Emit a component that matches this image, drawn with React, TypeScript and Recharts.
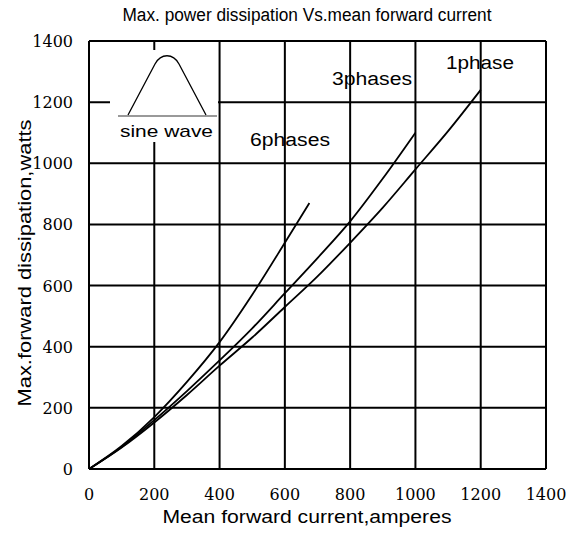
import { LineChart, Line, XAxis, YAxis, CartesianGrid } from "recharts";

// mean forward current (A) -> max forward dissipation (W)
const currents1Phase = [0, 100, 200, 300, 400, 500, 600, 700, 800, 900, 1000, 1100, 1200];
const watts1Phase = [0, 70, 152, 242, 338, 430, 530, 630, 740, 855, 980, 1105, 1240];

const currents3Phases = [0, 100, 200, 300, 400, 500, 600, 700, 800, 900, 1000];
const watts3Phases = [0, 72, 160, 255, 355, 460, 575, 690, 810, 950, 1100];

const currents6Phases = [0, 100, 200, 300, 400, 500, 600, 675];
const watts6Phases = [0, 75, 170, 285, 415, 570, 740, 870];

const xTicks = [0, 200, 400, 600, 800, 1000, 1200, 1400];
const yTicks = [0, 200, 400, 600, 800, 1000, 1200, 1400];

const toPoints = (xs: number[], ys: number[]) => xs.map((x, i) => ({ x, y: ys[i] }));

const sans = "Liberation Sans";
const serif = "DejaVu Serif";

// serif tick labels, like the scanned datasheet
function XTick(props: any) {
  const { x, y, payload } = props;
  return (
    <text x={x} y={y + 29} textAnchor="middle" fontFamily={serif} fontSize={16} fill="#000">
      {payload.value}
    </text>
  );
}

function YTick(props: any) {
  const { x, y, payload } = props;
  return (
    <text x={x} y={y + 6} textAnchor="end" fontFamily={serif} fontSize={16} fill="#000">
      {payload.value}
    </text>
  );
}

/**
 * Max. power dissipation vs. mean forward current for 1/3/6 phase operation.
 * Overlay holds the title, axis titles, curve labels and the sine-wave inset.
 */
export default function App() {
  return (
    <div style={{ position: "absolute", left: 0, top: 0, width: 570, height: 533, background: "#fff" }}>
      <LineChart
        width={570}
        height={533}
        margin={{ top: 41, right: 24, bottom: 34, left: 29 }}
      >
        <CartesianGrid stroke="#000" strokeWidth={2} />
        <XAxis
          type="number"
          dataKey="x"
          domain={[0, 1400]}
          ticks={xTicks}
          allowDataOverflow
          height={30}
          tickLine={false}
          tickSize={0}
          axisLine={{ stroke: "#000", strokeWidth: 2 }}
          tick={XTick}
        />
        <YAxis
          type="number"
          dataKey="y"
          domain={[0, 1400]}
          ticks={yTicks}
          allowDataOverflow
          width={60}
          tickLine={false}
          tickSize={0}
          tickMargin={16}
          axisLine={{ stroke: "#000", strokeWidth: 2 }}
          tick={YTick}
        />
        <Line
          data={toPoints(currents1Phase, watts1Phase)}
          dataKey="y"
          type="monotone"
          stroke="#000"
          strokeWidth={1.8}
          dot={false}
          isAnimationActive={false}
        />
        <Line
          data={toPoints(currents3Phases, watts3Phases)}
          dataKey="y"
          type="monotone"
          stroke="#000"
          strokeWidth={1.8}
          dot={false}
          isAnimationActive={false}
        />
        <Line
          data={toPoints(currents6Phases, watts6Phases)}
          dataKey="y"
          type="monotone"
          stroke="#000"
          strokeWidth={1.8}
          dot={false}
          isAnimationActive={false}
        />
      </LineChart>

      <svg
        width={570}
        height={533}
        style={{ position: "absolute", left: 0, top: 0, pointerEvents: "none" }}
      >
        <text x={307} y={21} textAnchor="middle" fontFamily={sans} fontSize={18}
          textLength={369} lengthAdjust="spacingAndGlyphs" fill="#000">
          Max. power dissipation Vs.mean forward current
        </text>
        <text x={307} y={523} textAnchor="middle" fontFamily={sans} fontSize={17.5}
          textLength={289} lengthAdjust="spacingAndGlyphs" fill="#000">
          Mean forward current,amperes
        </text>
        <text transform="translate(31,263) rotate(-90)" textAnchor="middle" fontFamily={sans}
          fontSize={17.5} textLength={287} lengthAdjust="spacingAndGlyphs" fill="#000">
          Max.forward dissipation,watts
        </text>

        <text x={446} y={69} fontFamily={sans} fontSize={18} textLength={68}
          lengthAdjust="spacingAndGlyphs" fill="#000">1phase</text>
        <text x={332} y={85} fontFamily={sans} fontSize={18} textLength={80}
          lengthAdjust="spacingAndGlyphs" fill="#000">3phases</text>
        <text x={250} y={146} fontFamily={sans} fontSize={18} textLength={80}
          lengthAdjust="spacingAndGlyphs" fill="#000">6phases</text>

        {/* sine wave inset */}
        <rect x={110} y={50} width={108} height={92} fill="#fff" />
        <line x1={118} y1={116} x2={217} y2={116} stroke="#777" strokeWidth={1.5} />
        <path d="M128,115 L155,64 C161,53 173,53 179,64 L206,115" fill="none" stroke="#000" strokeWidth={1.3} />
        <text x={166.5} y={137} textAnchor="middle" fontFamily={sans} fontSize={17}
          textLength={93} lengthAdjust="spacingAndGlyphs" fill="#000">sine wave</text>
      </svg>
    </div>
  );
}
